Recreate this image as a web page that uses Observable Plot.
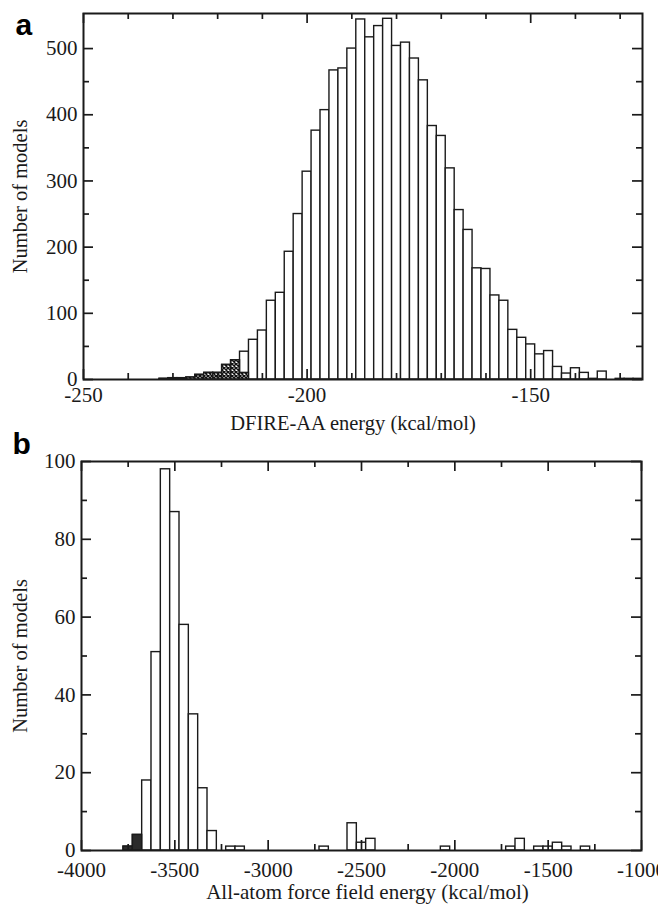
<!DOCTYPE html>
<html><head><meta charset="utf-8">
<script src="https://cdn.jsdelivr.net/npm/d3@7"></script>
<script src="https://cdn.jsdelivr.net/npm/@observablehq/plot@0.6"></script>
<style>
html,body{margin:0;padding:0;background:#fff;overflow:hidden;}
#chart{width:658px;overflow:hidden;}
#chart svg{display:block;}
</style></head><body><div id="chart"></div>
<script>
// ---------- Panel a: DFIRE-AA energy histogram (bin width 2) ----------
const dfireCenters = [-232,-230,-228,-226,-224,-222,-220,-218,-216,-214,-212,-210,-208,-206,-204,-202,-200,-198,-196,-194,-192,-190,-188,-186,-184,-182,-180,-178,-176,-174,-172,-170,-168,-166,-164,-162,-160,-158,-156,-154,-152,-150,-148,-146,-144,-142,-140,-138,-136,-134,-132,-130,-128,-126];
const dfireCounts  = [1,2,2,3,7,10,10,22,29,42,60,74,119,131,193,250,314,376,407,467,470,500,544,517,534,545,504,509,485,452,383,368,319,256,226,168,167,127,119,75,63,53,38,43,19,9,17,10,1,12,0,1,1,1];
const dfireHatchedCenters = [-232,-230,-228,-226,-224,-222,-220,-218,-216,-214];
const dfireHatchedCounts  = [1,2,2,3,7,10,10,22,29,10];
const dfireBinWidth = 2;
const dfireXTicks = [-250,-200,-150];
const dfireXMinor = [-240,-230,-220,-210,-190,-180,-170,-160,-140,-130];
const dfireYTicks = [0,100,200,300,400,500];
const dfireYMinor = [50,150,250,350,450];

// ---------- Panel b: all-atom force field energy histogram (bin width 50) ----------
const ffCenters = [-3750,-3700,-3650,-3600,-3550,-3500,-3450,-3400,-3350,-3300,-3200,-3150,-2700,-2550,-2500,-2450,-2050,-1700,-1650,-1550,-1500,-1450,-1400,-1300];
const ffCounts  = [1,4,18,51,98,87,58,35,16,5,1,1,1,7,2,3,1,1,3,1,1,2,1,1];
const ffDarkCenters = [-3750,-3700];
const ffDarkCounts  = [1,4];
const ffBinWidth = 50;
const ffXTicks = [-4000,-3500,-3000,-2500,-2000,-1500,-1000];
const ffXMinor = [-3750,-3250,-2750,-2250,-1750,-1250];
const ffYTicks = [0,20,40,60,80,100];
const ffYMinor = [10,30,50,70,90];

const zip = (cs, ns) => cs.map((c, i) => ({c, n: ns[i]}));
const SERIF = "'Liberation Serif', 'Times New Roman', serif";
const SANS = "'Liberation Sans', Arial, sans-serif";
const INK = "#1a1a1a";

function panel(o) {
  const W = 658;
  const innerW = W - o.ml - o.mr;
  const innerH = o.height - o.mt - o.mb;
  const MAJ = 10, MIN = 6;
  const bw = o.binWidth;
  const marks = [
    Plot.rectY(zip(o.centers, o.counts), {x1: d => d.c - bw/2, x2: d => d.c + bw/2, y: "n", fill: "white", stroke: INK, strokeWidth: 1.4}),
    Plot.rectY(zip(o.subCenters, o.subCounts), {x1: d => d.c - bw/2, x2: d => d.c + bw/2, y: "n", fill: o.subFill, stroke: INK, strokeWidth: 1.4}),
    // inward ticks on all four sides
    Plot.tickX(o.xTicks, {x: d => d, insetTop: innerH - MAJ, stroke: INK, strokeWidth: 1.7}),
    Plot.tickX(o.xTicks, {x: d => d, insetBottom: innerH - MAJ, stroke: INK, strokeWidth: 1.7}),
    Plot.tickX(o.xMinor, {x: d => d, insetTop: innerH - MIN, stroke: INK, strokeWidth: 1.7}),
    Plot.tickX(o.xMinor, {x: d => d, insetBottom: innerH - MIN, stroke: INK, strokeWidth: 1.7}),
    Plot.tickY(o.yTicks, {y: d => d, insetRight: innerW - MAJ, stroke: INK, strokeWidth: 1.7}),
    Plot.tickY(o.yTicks, {y: d => d, insetLeft: innerW - MAJ, stroke: INK, strokeWidth: 1.7}),
    Plot.tickY(o.yMinor, {y: d => d, insetRight: innerW - MIN, stroke: INK, strokeWidth: 1.7}),
    Plot.tickY(o.yMinor, {y: d => d, insetLeft: innerW - MIN, stroke: INK, strokeWidth: 1.7}),
    Plot.frame({stroke: INK, strokeWidth: 2}),
    Plot.axisX({ticks: o.xTicks, tickSize: 0, tickPadding: o.xPad, tickFormat: d => `${d}`, label: null, fontSize: 21}),
    Plot.axisY({ticks: o.yTicks, tickSize: 0, tickPadding: 6, tickFormat: d => `${d}`, label: null, fontSize: 21}),
    Plot.text([o.xLabel], {text: d => d, frameAnchor: "bottom", dx: o.xLabelDx, dy: o.xLabelDy, lineAnchor: "middle", fill: INK, fontSize: o.xLabelSize}),
    Plot.text(["Number of models"], {text: d => d, frameAnchor: "left", dx: 20 - o.ml, rotate: -90, textAnchor: "middle", lineAnchor: "middle", fill: INK, fontSize: 20.5}),
    Plot.text([o.letter], {text: d => d, frameAnchor: "top-left", dx: o.letterX - o.ml, dy: o.letterDy, textAnchor: "start", lineAnchor: "middle", fontFamily: SANS, fontWeight: "bold", fontSize: 30, fill: "#000"})
  ];
  const svg = Plot.plot({
    width: W, height: o.height,
    marginLeft: o.ml, marginRight: o.mr, marginTop: o.mt, marginBottom: o.mb,
    x: {domain: o.xDomain},
    y: {domain: o.yDomain},
    style: {fontFamily: SERIF, fontSize: "20px", color: INK, background: "white", overflow: "visible"},
    marks
  });
  const ns = "http://www.w3.org/2000/svg";
  const defs = document.createElementNS(ns, "defs");
  defs.innerHTML = `<pattern id="hatch" patternUnits="userSpaceOnUse" width="4" height="4"><rect width="4" height="4" fill="#fff"/><path d="M0,0L4,4M4,0L0,4" stroke="#111" stroke-width="1.5"/></pattern>`;
  svg.insertBefore(defs, svg.firstChild);
  return svg;
}

const chart = document.getElementById("chart");
chart.appendChild(panel({
  height: 440, ml: 83, mr: 16, mt: 13, mb: 61,
  xDomain: [-250, -125], yDomain: [0, 553],
  centers: dfireCenters, counts: dfireCounts, binWidth: dfireBinWidth,
  subCenters: dfireHatchedCenters, subCounts: dfireHatchedCounts, subFill: "url(#hatch)",
  xTicks: dfireXTicks, xMinor: dfireXMinor, yTicks: dfireYTicks, yMinor: dfireYMinor,
  xPad: 8, xLabel: "DFIRE-AA energy (kcal/mol)", xLabelDx: -10, xLabelDy: 44, xLabelSize: 20.5,
  letter: "a", letterX: 15, letterDy: 12
}));
chart.appendChild(panel({
  height: 469, ml: 81, mr: 17, mt: 21, mb: 59,
  xDomain: [-4000, -1000], yDomain: [0, 100],
  centers: ffCenters, counts: ffCounts, binWidth: ffBinWidth,
  subCenters: ffDarkCenters, subCounts: ffDarkCounts, subFill: "#2b2b2b",
  xTicks: ffXTicks, xMinor: ffXMinor, yTicks: ffYTicks, yMinor: ffYMinor,
  xPad: 12, xLabel: "All-atom force field energy (kcal/mol)", xLabelDx: 6, xLabelDy: 42, xLabelSize: 21,
  letter: "b", letterX: 12, letterDy: -17
}));
</script></body></html>
